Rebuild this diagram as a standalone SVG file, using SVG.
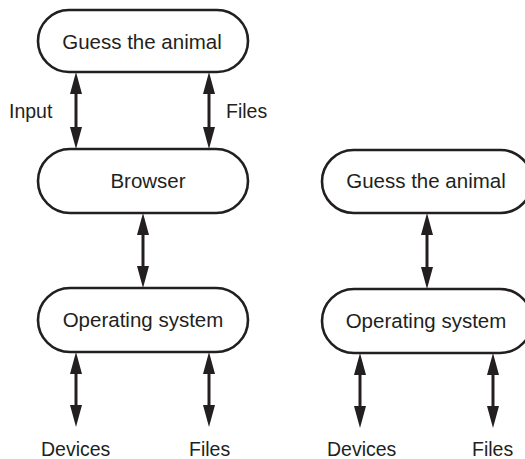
<svg xmlns="http://www.w3.org/2000/svg" width="525" height="459" viewBox="0 0 525 459">
<style>
.pill{fill:#fff;stroke:#231f20;stroke-width:2.6}
.nt{font-family:"Liberation Sans",Arial,sans-serif;font-size:20.5px;fill:#231f20;text-anchor:middle}
.lb{font-family:"Liberation Sans",Arial,sans-serif;font-size:19.5px;fill:#231f20}
.ar{stroke:#231f20;stroke-width:3;fill:none;marker-start:url(#ah);marker-end:url(#ah)}
</style>
<defs>
<marker id="ah" markerUnits="userSpaceOnUse" markerWidth="22" markerHeight="12" refX="12" refY="6" orient="auto-start-reverse" overflow="visible">
<path d="M0,0 L22,6 L0,12 z" fill="#231f20"/>
</marker>
</defs>
<rect width="525" height="459" fill="#fff"/>
<g id="connectors">
<line class="ar" x1="76" y1="82" x2="76" y2="139"/>
<line class="ar" x1="209" y1="82" x2="209" y2="139"/>
<line class="ar" x1="143" y1="223" x2="143" y2="278"/>
<line class="ar" x1="76" y1="362" x2="76" y2="417"/>
<line class="ar" x1="209" y1="362" x2="209" y2="417"/>
<line class="ar" x1="427" y1="223" x2="427" y2="279"/>
<line class="ar" x1="360" y1="363" x2="360" y2="418"/>
<line class="ar" x1="493" y1="363" x2="493" y2="418"/>
</g>
<g id="labels">
<text class="lb" x="9" y="118">Input</text>
<text class="lb" x="226" y="118">Files</text>
<text class="lb" x="41" y="456">Devices</text>
<text class="lb" x="189" y="456">Files</text>
<text class="lb" x="327" y="456">Devices</text>
<text class="lb" x="472" y="456">Files</text>
</g>
<g id="n1">
<rect class="pill" x="38" y="10" width="210" height="62" rx="31"/>
<text class="nt" x="142" y="49">Guess the animal</text>
</g>
<g id="n2">
<rect class="pill" x="38" y="149" width="210" height="64" rx="32"/>
<text class="nt" x="148" y="188">Browser</text>
</g>
<g id="n3">
<rect class="pill" x="38" y="288" width="210" height="64" rx="32"/>
<text class="nt" x="143" y="327">Operating system</text>
</g>
<g id="n4">
<rect class="pill" x="322" y="150" width="210" height="63" rx="31.5"/>
<text class="nt" x="426" y="188">Guess the animal</text>
</g>
<g id="n5">
<rect class="pill" x="322" y="289" width="210" height="64" rx="32"/>
<text class="nt" x="426" y="328">Operating system</text>
</g>
</svg>
